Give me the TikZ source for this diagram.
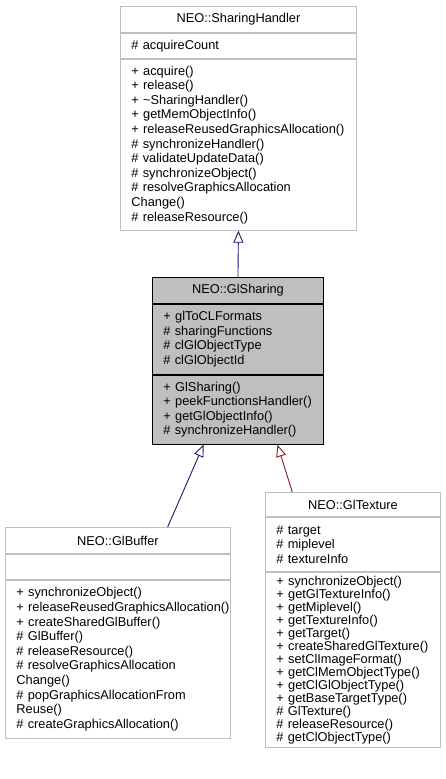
\documentclass[tikz,border=0pt]{standalone}
\usepackage{fontspec}
\setmainfont{Liberation Sans}
\usetikzlibrary{arrows.meta,calc,positioning}
\definecolor{boxgray}{HTML}{BFBFBF}
\definecolor{edgeblue}{HTML}{191970}
\definecolor{edgered}{HTML}{8B1A1A}
\hyphenpenalty=10000
\exhyphenpenalty=10000

\begin{document}
\begin{tikzpicture}[x=1pt,y=1pt,
  font=\fontsize{12.8}{14.6}\selectfont,
  every node/.style={inner sep=0pt},
  line width=.9pt,
  part/.style={draw=boxgray,fill=white,anchor=north west,align=left,inner xsep=11pt},
  title/.style={part,align=center,inner xsep=0pt,minimum height=26},
  current/.style={draw=black,fill=boxgray},
  inherit/.style={-{Triangle[open,length=12pt,width=10pt]},line width=.9pt}]
\path[use as bounding box] (0,-779) rectangle (445,0);

% NEO::SharingHandler
\node[title,minimum width=236] (shName) at (120,-6) {NEO::SharingHandler};
\node[part,text width=214,minimum height=25] (shAttr) at (shName.south west)
  {\# acquireCount};
\node[part,text width=214,minimum height=171] (shMeth) at (shAttr.south west)
  {+ acquire()\\+ release()\\+ \textasciitilde SharingHandler()\\+ getMemObjectInfo()\\
   + releaseReusedGraphicsAllocation()\\\# synchronizeHandler()\\\# validateUpdateData()\\
   \# synchronizeObject()\\\# resolveGraphicsAllocation\\Change()\\\# releaseResource()};

% NEO::GlSharing
\node[title,current,minimum width=171] (gsName) at (152,-277) {NEO::GlSharing};
\node[part,current,text width=149,minimum height=70] (gsAttr) at (gsName.south west)
  {+ glToCLFormats\\\# sharingFunctions\\\# clGlObjectType\\\# clGlObjectId};
\node[part,current,text width=149,minimum height=69] (gsMeth) at (gsAttr.south west)
  {+ GlSharing()\\+ peekFunctionsHandler()\\+ getGlObjectInfo()\\\# synchronizeHandler()};

% NEO::GlBuffer
\node[title,minimum width=225] (gbName) at (5,-527) {NEO::GlBuffer};
\node[part,text width=203,minimum height=25] (gbAttr) at (gbName.south west) {};
\node[part,text width=203,minimum height=158] (gbMeth) at (gbAttr.south west)
  {+ synchronizeObject()\\\mbox{+ releaseReusedGraphicsAllocation()}\\+ createSharedGlBuffer()\\
   \# GlBuffer()\\\# releaseResource()\\\# resolveGraphicsAllocation\\Change()\\
   \# popGraphicsAllocationFrom\\Reuse()\\\# createGraphicsAllocation()};

% NEO::GlTexture
\node[title,minimum width=175,minimum height=24] (gtName) at (265,-492) {NEO::GlTexture};
\node[part,text width=153,minimum height=54] (gtAttr) at (gtName.south west)
  {\# target\\\# miplevel\\\# textureInfo};
\node[part,text width=153,minimum height=175,font=\fontsize{12.8}{13}\selectfont] (gtMeth)
  at (gtAttr.south west)
  {+ synchronizeObject()\\+ getGlTextureInfo()\\+ getMiplevel()\\+ getTextureInfo()\\
   + getTarget()\\+ createSharedGlTexture()\\+ setClImageFormat()\\+ getClMemObjectType()\\
   + getClGlObjectType()\\+ getBaseTargetType()\\\# GlTexture()\\\# releaseResource()\\
   \# getClObjectType()};

\draw[inherit,edgeblue] (gsName.north) -- (shMeth.south);
\draw[inherit,edgeblue] ($(gbName.north west)!.72!(gbName.north east)$)
  -- ($(gsMeth.south west)!.30!(gsMeth.south east)$);
\draw[inherit,edgered] ($(gtName.north west)!.155!(gtName.north east)$)
  -- ($(gsMeth.south west)!.73!(gsMeth.south east)$);
\end{tikzpicture}
\end{document}
